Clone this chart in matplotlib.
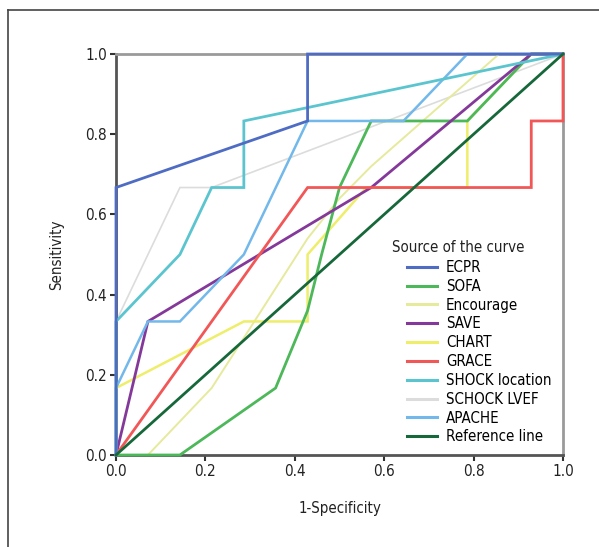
import matplotlib
matplotlib.use("Agg")
import matplotlib.pyplot as plt
from matplotlib.lines import Line2D

plt.rcParams["font.family"] = ["DejaVu Sans"]
plt.rcParams["font.stretch"] = "condensed"

# ROC curves (1-specificity, sensitivity)
ecpr_x = [0, 0, 0.4286, 0.4286, 1.0]
ecpr_y = [0, 0.667, 0.833, 1.0, 1.0]

sofa_x = [0, 0.1429, 0.357, 0.4286, 0.46, 0.5, 0.571, 0.786, 0.929, 1.0]
sofa_y = [0, 0, 0.167, 0.36, 0.5, 0.667, 0.833, 0.833, 1.0, 1.0]

enc_x = [0, 0.0714, 0.214, 0.4286, 0.5, 0.571, 0.857, 1.0]
enc_y = [0, 0, 0.167, 0.54, 0.64, 0.72, 1.0, 1.0]

save_x = [0, 0.0714, 0.571, 0.929, 1.0]
save_y = [0, 0.333, 0.667, 1.0, 1.0]

chart_x = [0, 0, 0.286, 0.4286, 0.4286, 0.56, 0.786, 0.786, 0.929, 1.0]
chart_y = [0, 0.167, 0.333, 0.333, 0.5, 0.667, 0.667, 0.833, 1.0, 1.0]

grace_x = [0, 0.4286, 0.929, 0.929, 1.0, 1.0]
grace_y = [0, 0.667, 0.667, 0.833, 0.833, 1.0]

shockloc_x = [0, 0, 0.143, 0.214, 0.286, 0.286, 1.0]
shockloc_y = [0, 0.333, 0.5, 0.667, 0.667, 0.833, 1.0]

shocklvef_x = [0, 0, 0.143, 0.214, 1.0]
shocklvef_y = [0, 0.333, 0.667, 0.667, 1.0]

apache_x = [0, 0, 0.0714, 0.143, 0.286, 0.4286, 0.643, 0.786, 1.0]
apache_y = [0, 0.167, 0.333, 0.333, 0.5, 0.833, 0.833, 1.0, 1.0]

ref_x = [0, 1]
ref_y = [0, 1]

labels = ["ECPR", "SOFA", "Encourage", "SAVE", "CHART", "GRACE",
          "SHOCK location", "SCHOCK LVEF", "APACHE", "Reference line"]
colors = ["#4f6cc4", "#4cb85a", "#e6ea9c", "#84399a", "#eeee6a", "#f25757",
          "#5bc5cf", "#dcdcdc", "#72b8ea", "#16683a"]
widths = [2.0, 2.0, 1.4, 2.0, 1.8, 2.0, 2.0, 1.2, 1.8, 2.0]
series = [(ecpr_x, ecpr_y), (sofa_x, sofa_y), (enc_x, enc_y), (save_x, save_y),
          (chart_x, chart_y), (grace_x, grace_y), (shockloc_x, shockloc_y),
          (shocklvef_x, shocklvef_y), (apache_x, apache_y), (ref_x, ref_y)]
zorders = [9, 5, 3, 6, 4, 7, 8, 2, 6.5, 10]

W, H = 599, 547
fig = plt.figure(figsize=(W/100, H/100), dpi=100)
ax = fig.add_axes([116/W, 1-455/H, (563-116)/W, (455-54)/H])

# outer frame (top and left only)
fig.add_artist(Line2D([8/W, 1], [1-10/H, 1-10/H], color="#444444", lw=1.2))
fig.add_artist(Line2D([8/W, 8/W], [0, 1-10/H], color="#444444", lw=1.2))

for (x, y), c, w, z in zip(series, colors, widths, zorders):
    ax.plot(x, y, color=c, lw=w, zorder=z, solid_joinstyle="miter", clip_on=False)

ax.set_xlim(0, 1)
ax.set_ylim(0, 1)
ticks = [0.0, 0.2, 0.4, 0.6, 0.8, 1.0]
ax.set_xticks(ticks)
ax.set_yticks(ticks)
ax.set_xticklabels([f"{t:.1f}" for t in ticks])
ax.set_yticklabels([f"{t:.1f}" for t in ticks])
ax.tick_params(axis="both", direction="out", length=4, width=1.5, colors="#333333",
               labelsize=11, labelcolor="#222222", pad=2.5)

for side in ["left", "bottom"]:
    ax.spines[side].set_color("#555555")
    ax.spines[side].set_linewidth(2)
for side in ["top", "right"]:
    ax.spines[side].set_color("#9a9a9a")
    ax.spines[side].set_linewidth(2)

ax.set_xlabel("1-Specificity", fontsize=10.8, color="#222222", labelpad=16)
ax.set_ylabel("Sensitivity", fontsize=10.8, color="#222222", labelpad=15)

fig.text(392/W, 1-247/H, "Source of the curve", fontsize=10.8, color="#222222",
         ha="left", va="center")

handles = [Line2D([], [], color=c, lw=2.2) for c in colors]
leg = fig.legend(handles, labels, loc="upper left",
                 bbox_to_anchor=(407/W, 1-260/H), bbox_transform=fig.transFigure,
                 frameon=False, fontsize=10.8, handlelength=2.0, handletextpad=0.6,
                 labelspacing=0.255, borderpad=0.0, borderaxespad=0.0)
leg.set_zorder(20)

fig.savefig("out.png", dpi=100)
